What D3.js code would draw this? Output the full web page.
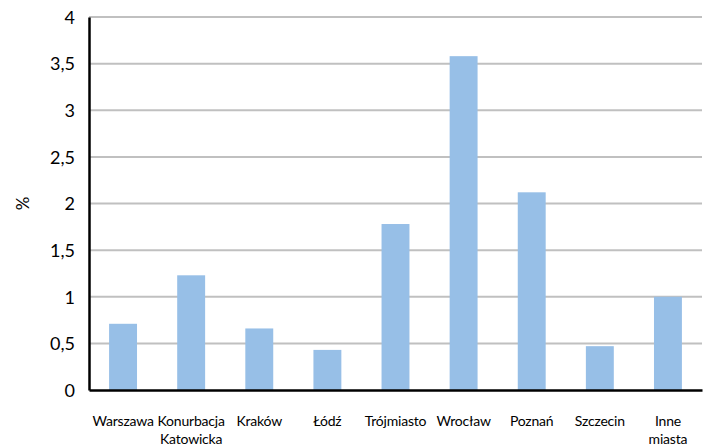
<!DOCTYPE html>
<html>
<head>
<meta charset="utf-8">
<script src="https://cdn.jsdelivr.net/npm/d3@7/dist/d3.min.js"></script>
<style>
  html, body { margin: 0; padding: 0; background: #fff; }
  svg text { font-family: Lato, "Open Sans", sans-serif; fill: #000; }
</style>
</head>
<body>
<svg id="chart" width="705" height="446"></svg>
<script>
// City categories (multi-line labels split on "\n")
const categories = ["Warszawa", "Konurbacja\nKatowicka", "Kraków", "Łódź", "Trójmiasto", "Wrocław", "Poznań", "Szczecin", "Inne\nmiasta"];
// Share in percent
const values = [0.71, 1.23, 0.66, 0.43, 1.78, 3.58, 2.12, 0.47, 1.0];
// Y axis ticks and their labels
const yTicks = [0, 0.5, 1, 1.5, 2, 2.5, 3, 3.5, 4];
const yTickLabels = ["0", "0,5", "1", "1,5", "2", "2,5", "3", "3,5", "4"];
const yTitle = "%";

const svg = d3.select("#chart");
const margin = { left: 89, right: 3, top: 17, bottom: 56 };
const W = 705, H = 446;

const x = d3.scaleBand()
  .domain(categories)
  .range([margin.left, W - margin.right])
  .paddingInner(0.59)
  .paddingOuter(0.295);

const y = d3.scaleLinear()
  .domain([0, 4])
  .range([H - margin.bottom, margin.top]);

// Horizontal gridlines
svg.append("g")
  .selectAll("line")
  .data(yTicks.filter(d => d > 0))
  .join("line")
  .attr("x1", margin.left)
  .attr("x2", W - margin.right)
  .attr("y1", d => y(d))
  .attr("y2", d => y(d))
  .attr("stroke", "#c0c0c0")
  .attr("stroke-width", 2);

// Bars
svg.append("g")
  .selectAll("rect")
  .data(values)
  .join("rect")
  .attr("x", (d, i) => x(categories[i]))
  .attr("width", x.bandwidth())
  .attr("y", d => y(d))
  .attr("height", d => y(0) - y(d))
  .attr("fill", "#97bfe7");

// Y axis
const yAxis = d3.axisLeft(y)
  .tickValues(yTicks)
  .tickFormat((d, i) => yTickLabels[i])
  .tickSize(0)
  .tickPadding(14);
const gy = svg.append("g")
  .attr("transform", `translate(${margin.left},0)`)
  .call(yAxis);
gy.select(".domain").attr("stroke", "#000").attr("stroke-width", 2.5);
gy.selectAll("text").style("font-size", "18px").attr("dy", "0.35em");

// X axis
const xAxis = d3.axisBottom(x).tickSize(0).tickFormat("");
const gx = svg.append("g")
  .attr("transform", `translate(0,${y(0)})`)
  .call(xAxis);
gx.select(".domain").attr("stroke", "#000").attr("stroke-width", 2.5);

// Category labels, possibly on two lines
const labels = svg.append("g")
  .selectAll("text")
  .data(categories)
  .join("text")
  .attr("text-anchor", "middle")
  .attr("x", d => x(d) + x.bandwidth() / 2)
  .attr("y", 426)
  .style("font-size", "14px")
  .style("letter-spacing", "-0.2px");
labels.each(function(d) {
  const t = d3.select(this);
  d.split("\n").forEach((line, j) => {
    t.append("tspan")
      .attr("x", x(d) + x.bandwidth() / 2)
      .attr("dy", j === 0 ? 0 : 18)
      .text(line);
  });
});

// Y axis title
svg.append("text")
  .attr("transform", `translate(29,${(y(0) + y(4)) / 2}) rotate(-90)`)
  .attr("text-anchor", "middle")
  .style("font-size", "17px")
  .text(yTitle);
</script>
</body>
</html>
